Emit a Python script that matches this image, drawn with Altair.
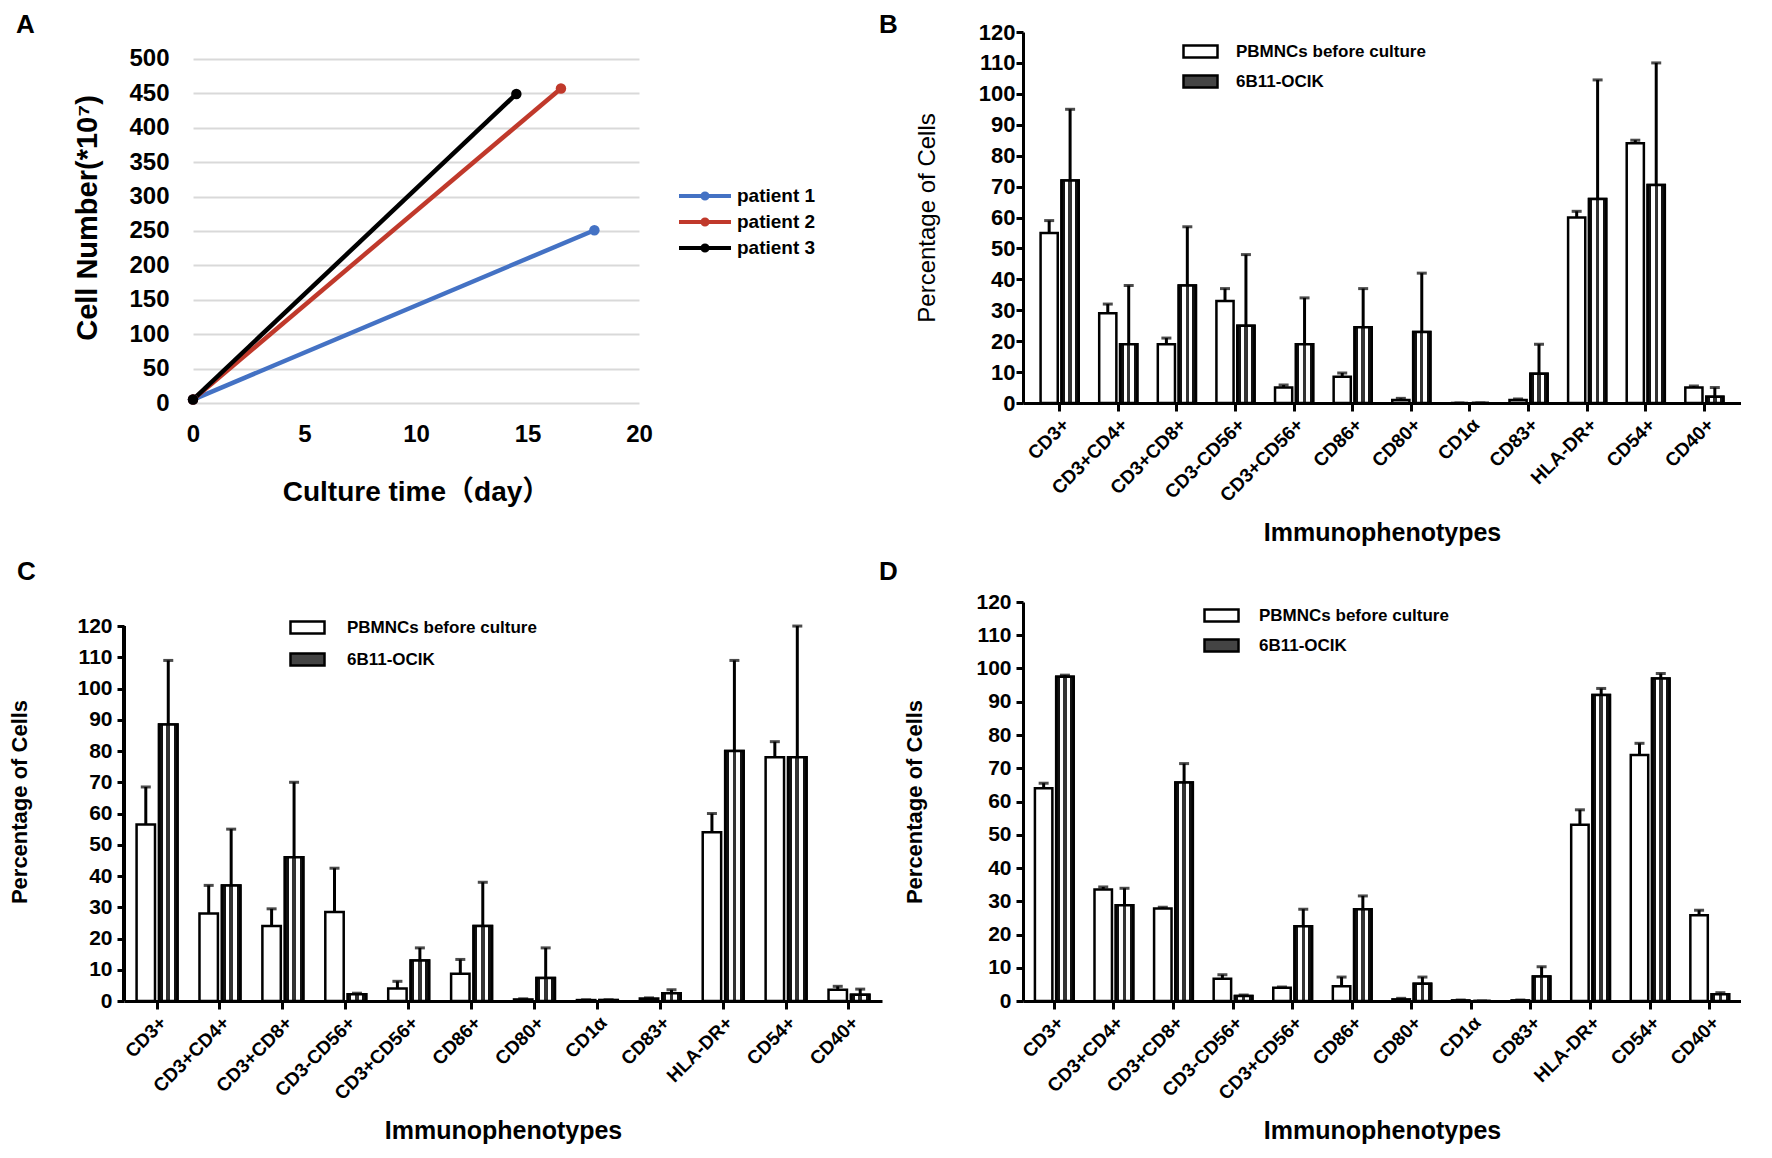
import altair as alt
import pandas as pd

# ---------------- Panel A data ----------------
patients = ["patient 1", "patient 2", "patient 3"]
patient_colors = ["#4472C4", "#C0392B", "#000000"]
days_p1 = [0, 18.0]
cells_p1 = [5, 251]
days_p2 = [0, 16.5]
cells_p2 = [5, 457]
days_p3 = [0, 14.5]
cells_p3 = [5, 449]

# ---------------- Bar panels data ----------------
categories = ["CD3+", "CD3+CD4+", "CD3+CD8+", "CD3-CD56+", "CD3+CD56+", "CD86+",
              "CD80+", "CD1α", "CD83+", "HLA-DR+", "CD54+", "CD40+"]
groups = ["PBMNCs before culture", "6B11-OCIK"]
panel_letters = ["A", "B", "C", "D"]

B_pb_mean = [55, 29, 19, 33, 5, 8.5, 1, 0, 1, 60, 84, 5]
B_pb_top = [59, 32, 21, 37, 5.8, 9.7, 1.5, 0, 1.3, 62, 85, 5.5]
B_oc_mean = [72, 19, 38, 25, 19, 24.5, 23, 0, 9.5, 66, 70.5, 2]
B_oc_top = [95, 38, 57, 48, 34, 37, 42, 0, 19, 104.5, 110, 5]

C_pb_mean = [56.5, 28, 24, 28.5, 4, 8.7, 0.5, 0.3, 0.8, 54, 78, 3.6]
C_pb_top = [68.5, 37, 29.5, 42.5, 6.3, 13.3, 0.7, 0.4, 1.0, 60, 83, 4.7]
C_oc_mean = [88.5, 37, 46, 2.2, 13, 24, 7.4, 0.3, 2.5, 80, 78, 2]
C_oc_top = [109, 55, 70, 2.5, 17, 38, 17, 0.4, 3.6, 109, 120, 3.8]

D_pb_mean = [64, 33.5, 27.8, 6.7, 4, 4.4, 0.5, 0.2, 0.2, 53, 74, 25.8]
D_pb_top = [65.5, 34.3, 28.2, 7.9, 4.2, 7.2, 0.8, 0.3, 0.3, 57.5, 77.5, 27.3]
D_oc_mean = [97.5, 28.8, 65.7, 1.5, 22.5, 27.6, 5.2, 0, 7.4, 92, 97, 2]
D_oc_top = [98, 33.9, 71.4, 1.8, 27.6, 31.6, 7.2, 0, 10.3, 94, 98.5, 2.5]

FONT = "Liberation Sans, Arial, Noto Sans CJK SC"


def letter_layer(letter, dx, dy):
    return alt.Chart(pd.DataFrame({"letter": [letter]})).mark_text(
        align="left", baseline="top", font=FONT, fontSize=26, fontWeight="bold",
        color="black").encode(text="letter:N", x=alt.value(dx), y=alt.value(dy))


# ---------------- Panel A ----------------
rows = []
for name, d, c in [(patients[0], days_p1, cells_p1), (patients[1], days_p2, cells_p2),
                   (patients[2], days_p3, cells_p3)]:
    for di, ci in zip(d, c):
        rows.append({"patient": name, "day": di, "cells": ci})
dfA = pd.DataFrame(rows)

LEG_PAD = 71
colorA = alt.Color(
    "patient:N", sort=patients,
    scale=alt.Scale(domain=patients, range=patient_colors),
    legend=alt.Legend(
        orient="none", legendX=497 - LEG_PAD, legendY=149 - LEG_PAD, title=None,
        padding=LEG_PAD,
        symbolType="M-2,0H2M-0.2,0A0.2,0.2 0 1,1 0.2,0A0.2,0.2 0 1,1 -0.2,0",
        symbolSize=676, symbolStrokeWidth=4, symbolFillColor="transparent",
        labelFont=FONT, labelFontSize=19, labelFontWeight="bold", labelColor="black",
        labelOffset=17, rowPadding=0, labelLimit=300,
    ),
)
xA = alt.X("day:Q", scale=alt.Scale(domain=[0, 20], nice=False),
           axis=alt.Axis(values=[0, 5, 10, 15, 20], grid=False, domain=False, ticks=False,
                         labelFlush=False, labelFont=FONT, labelFontSize=24,
                         labelFontWeight="bold", labelColor="black", labelPadding=19,
                         title="Culture time（day）", titleFont=FONT, titleFontSize=28,
                         titleFontWeight="bold", titleColor="black", titlePadding=32))
yA = alt.Y("cells:Q", scale=alt.Scale(domain=[0, 539], nice=False),
           axis=alt.Axis(values=list(range(0, 501, 50)), grid=True, gridColor="#d9d9d9",
                         gridWidth=2, domain=False, ticks=False, labelFont=FONT,
                         labelFontSize=24, labelFontWeight="bold", labelColor="black",
                         labelPadding=24, title="Cell Number(*10⁷)", titleFont=FONT,
                         titleFontSize=29, titleFontWeight="bold", titleColor="black",
                         titlePadding=26))
linesA = alt.Chart(dfA).mark_line(strokeWidth=4.5).encode(x=xA, y=yA, color=colorA,
                                                          detail="patient:N")
pointsA = alt.Chart(dfA).mark_point(filled=True, size=110, opacity=1).encode(
    x=xA, y=yA, color=colorA)
panelA = alt.layer(linesA, pointsA, letter_layer(panel_letters[0], -177, -20)).properties(
    width=446, height=371)

# ---------------- Bar panels ----------------
pattern = alt.Gradient(
    gradient="linear", x1=0, x2=1, y1=0, y2=0,
    stops=[
        alt.GradientStop(offset=0.0, color="#111111"),
        alt.GradientStop(offset=0.2, color="#111111"),
        alt.GradientStop(offset=0.2, color="#ffffff"),
        alt.GradientStop(offset=0.4, color="#ffffff"),
        alt.GradientStop(offset=0.4, color="#333333"),
        alt.GradientStop(offset=0.6, color="#333333"),
        alt.GradientStop(offset=0.6, color="#ffffff"),
        alt.GradientStop(offset=0.8, color="#ffffff"),
        alt.GradientStop(offset=0.8, color="#111111"),
        alt.GradientStop(offset=1.0, color="#111111"),
    ],
)


def bar_panel(pb_mean, pb_top, oc_mean, oc_top, width, height, ymax, letter, ldx, ldy,
              pad_outer, legend_x, legend_y, legend_off, legend_rowpad,
              ytitle_weight, ytitle_size, ytitle_pad, xtitle_pad, tick_font_size,
              label_pad, shift=0):
    rows = []
    for i, cat in enumerate(categories):
        rows.append({"cat": cat, "grp": groups[0], "mean": pb_mean[i], "top": pb_top[i]})
        rows.append({"cat": cat, "grp": groups[1], "mean": oc_mean[i], "top": oc_top[i]})
    df = pd.DataFrame(rows)

    draw_domain = ymax == 120
    yscale = alt.Scale(domain=[0, ymax], nice=False)
    yaxis = alt.Axis(values=list(range(0, 121, 10)), grid=False, domain=draw_domain,
                     offset=shift,
                     domainColor="black", domainWidth=3, tickColor="black", tickWidth=3,
                     tickSize=7, labelFont=FONT, labelFontSize=tick_font_size,
                     labelFontWeight="bold", labelColor="black", labelPadding=label_pad,
                     title="Percentage of Cells", titleFont=FONT, titleFontSize=ytitle_size,
                     titleFontWeight=ytitle_weight, titleColor="black",
                     titlePadding=ytitle_pad)
    if shift:
        xscale = alt.Scale(paddingInner=0.35, paddingOuter=pad_outer,
                           range=[-shift, width])
    else:
        xscale = alt.Scale(paddingInner=0.35, paddingOuter=pad_outer)
    x = alt.X("cat:N", sort=categories, scale=xscale,
              axis=alt.Axis(labelAngle=-45, domainColor="black", domainWidth=3,
                            tickColor="black", tickWidth=3, tickSize=8, labelFont=FONT,
                            labelFontSize=19, labelFontWeight="bold", labelColor="black",
                            labelPadding=4, title="Immunophenotypes", titleFont=FONT,
                            titleFontSize=25, titleFontWeight="bold", titleColor="black",
                            titlePadding=xtitle_pad))
    xo = alt.XOffset("grp:N", sort=groups, scale=alt.Scale(paddingInner=0.18))
    base = alt.Chart(df).encode(x=x, xOffset=xo)

    bars = base.mark_bar(stroke="black", strokeWidth=2.5).encode(
        y=alt.Y("mean:Q", scale=yscale, axis=yaxis),
        fill=alt.Fill("grp:N", sort=groups,
                      scale=alt.Scale(domain=groups, range=["#ffffff", "#444444"]),
                      legend=alt.Legend(orient="none", legendX=legend_x, legendY=legend_y,
                                        title=None, symbolType="M-1,-0.36H1V0.36H-1Z",
                                        symbolSize=1156, symbolStrokeColor="black",
                                        symbolStrokeWidth=2.5, labelFont=FONT,
                                        labelFontSize=17, labelFontWeight="bold",
                                        labelColor="black", labelOffset=legend_off,
                                        rowPadding=legend_rowpad, labelLimit=400)),
    )
    patt = base.transform_filter(alt.datum.grp == groups[1]).mark_bar(
        stroke="black", strokeWidth=2.5, fill=pattern).encode(
        y=alt.Y("mean:Q", scale=yscale, axis=yaxis))
    rules = base.mark_rule(color="black", strokeWidth=3).encode(
        y=alt.Y("mean:Q", scale=yscale, axis=yaxis), y2="top:Q")
    caps = base.mark_tick(color="black", thickness=3, size=10).encode(
        y=alt.Y("top:Q", scale=yscale, axis=yaxis))
    layers = [rules, bars, patt, caps]
    if not draw_domain:
        # y-axis line that stops at 120, as in the reference
        axis_line = alt.Chart(df).mark_rule(color="black", strokeWidth=3).encode(
            x=alt.value(-shift),
            y=alt.Y(datum=0, type="quantitative", scale=yscale, axis=yaxis),
            y2=alt.Y2(datum=120))
        layers.append(axis_line)
    layers.append(letter_layer(letter, ldx, ldy))
    return alt.layer(*layers).properties(width=width, height=height)


panelB = bar_panel(B_pb_mean, B_pb_top, B_oc_mean, B_oc_top, 718, 371, 120,
                   panel_letters[1], -144, -20,
                   0.3, 159, 1, 17, 0, "normal", 24, 39, 15, 22, 1)
panelC = bar_panel(C_pb_mean, C_pb_top, C_oc_mean, C_oc_top, 689, 399, 127.7,
                   panel_letters[2], -176, -43,
                   0.2, 96, 7, 21, 2, "bold", 22, 45, 15, 21, 5, shift=69)
panelD = bar_panel(D_pb_mean, D_pb_top, D_oc_mean, D_oc_top, 718, 399, 120,
                   panel_letters[3], -144, -43,
                   0.2, 180, -5, 19, 0, "bold", 22, 49, 15, 21, 5)

chart = alt.concat(panelA, panelB, panelC, panelD, columns=2, align="none",
                   spacing={"row": 13, "column": -72}).resolve_scale(
    color="independent", fill="independent", xOffset="independent",
    x="independent", y="independent").resolve_legend(
    color="independent", fill="independent").properties(
    padding={"top": 4, "left": 0, "right": 0, "bottom": 0},
    background="white").configure_view(stroke=None)

chart.save("out.html", embed_options={"renderer": "svg", "actions": False})
